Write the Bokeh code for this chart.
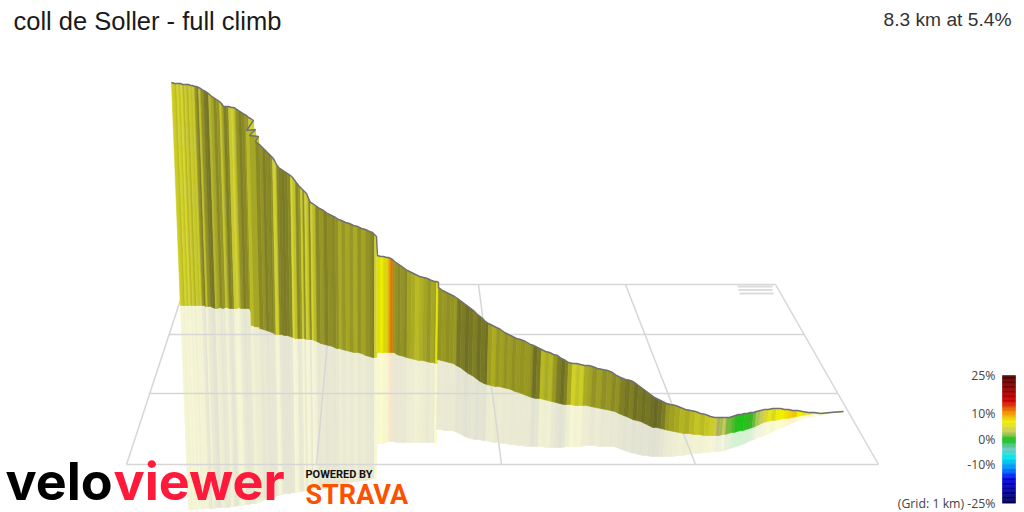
import numpy as np
from bokeh.core.properties import value
from bokeh.models import ColumnDataSource, Range1d
from bokeh.plotting import figure
from bokeh.embed import file_html
from bokeh.resources import INLINE

TITLE = "coll de Soller - full climb"
SUMMARY = "8.3 km at 5.4%"
LEGEND_TICKS = [25, 10, 0, -10, -25]
LEGEND_LABELS = ["25%", "10%", "0%", "-10%", "(Grid: 1 km) -25%"]

# gradient colour scale
scale_pct = [-25, -15.5, -11.5, -7, -3.5, 0, 3, 7, 11, 15, 25]
scale_r = [0, 0, 0, 0, 112, 16, 200, 240, 240, 208, 77]
scale_g = [0, 0, 128, 232, 200, 192, 200, 240, 130, 0, 0]
scale_b = [80, 224, 255, 232, 192, 16, 96, 0, 0, 0, 0]

# climb profile in the picture's projected scene units
station = [
 171,174,176,178,180,182,184,186,188,190,192,194,196,198,200,203,205,208,210,213,
 216,219,221,223,226,228,231,233,235,238,241,244,246,248,250,253,246,255,249,258,
 255,259,262,265,268,270,272,274,276,278,281,284,287,290,292,295,298,300,302,304,
 306,308,310,312,315,319,323,327,331,335,338,341,345,349,353,357,361,365,369,372,
 374,376,377,380,383,386,388,390,392,394,397,400,404,407,411,415,419,423,427,431,
 434,436,438,438,442,446,450,454,457,461,465,469,473,477,481,485,488,492,496,500,
 504,508,512,516,520,525,530,533,537,541,545,549,553,557,561,565,568,572,576,580,
 584,588,592,597,602,607,612,616,620,625,630,634,638,642,646,650,654,658,662,666,
 670,675,680,685,690,695,700,705,710,714,717,720,723,726,729,732,735,738,741,744,
 747,750,753,756,760,764,768,772,776,780,784,788,792,797,802,808,814,820,830,843]
crest = [
 82,83,83,83,83,84,84,84,84,85,85,86,86,87,88,90,91,93,95,97,
 99,101,103,106,106,106,107,107,108,110,112,114,115,117,118,120,130,129,135,136,
 141,144,147,150,153,155,157,160,164,167,169,171,173,175,177,181,185,187,189,191,
 193,198,202,203,205,208,210,213,215,217,219,220,222,223,225,226,228,229,231,232,
 234,236,255,256,256,257,257,258,259,261,263,265,268,270,272,274,276,277,278,280,
 281,281,282,287,290,292,294,296,298,301,304,307,310,314,317,321,323,325,327,329,
 332,334,336,338,339,341,344,345,347,349,351,352,354,355,358,360,362,363,363,364,
 365,365,366,368,369,370,372,375,377,379,380,382,385,388,391,394,397,399,401,403,
 404,405,407,409,410,411,413,414,416,417,417,417,417,417,417,416,415,414,414,413,
 413,412,412,411,410,409,409,408,408,408,409,409,410,410,411,412,412,413,412,411]
road = [
 305,305,305,305,305,305,305,305,305,305,305,305,305,306,306,306,307,308,308,307,
 308,307,307,308,308,308,308,307,308,308,308,308,312,322,324,325,325,326,326,327,
 328,329,330,331,332,333,334,334,334,334,335,335,336,337,338,338,338,338,338,339,
 339,339,339,340,341,343,344,345,346,348,348,349,350,351,352,352,353,355,356,357,
 357,357,352,352,352,352,352,352,352,352,354,355,356,357,358,359,360,360,361,362,
 362,363,363,359,360,361,362,363,365,367,370,373,375,378,381,383,384,385,386,386,
 387,388,389,391,392,394,396,397,398,398,399,400,401,402,403,404,404,404,405,405,
 405,405,406,407,408,409,410,411,413,415,417,419,420,421,423,425,427,427,428,429,
 430,431,432,433,433,434,434,435,435,435,435,435,434,434,433,432,432,431,430,430,
 429,428,427,426,424,422,421,420,420,419,418,418,417,416,415,414,413,413,412,411]
mirror = [
 509,509,509,509,509,508,508,508,508,508,508,508,508,508,508,507,507,507,507,507,
 507,506,506,506,505,505,505,505,504,504,503,503,503,502,502,501,501,500,500,499,
 498,498,497,496,496,495,495,494,494,493,493,493,492,492,492,491,491,491,490,490,
 490,490,489,489,489,488,488,487,486,485,484,484,483,482,481,481,480,480,479,478,
 478,478,443,443,443,442,441,441,441,441,442,442,442,442,442,442,442,442,442,442,
 442,442,442,429,429,430,430,430,431,433,435,437,438,439,439,440,440,441,442,442,
 443,443,444,444,445,445,446,446,446,446,446,447,447,447,447,447,446,446,446,446,
 446,445,445,445,446,446,446,446,447,449,451,452,453,454,455,455,456,456,456,456,
 456,456,455,455,454,453,453,452,452,451,451,451,451,450,449,448,447,446,445,444,
 443,441,440,439,437,436,434,432,430,428,427,425,423,421,419,417,416,415,413,411]
gradient = [
 5.4,5.6,5.2,5.5,4.9,5.5,5.0,5.6,5.2,5.4,5.0,5.5,5.6,5.2,5.5,5.6,5.6,5.0,5.5,5.6,
 5.5,5.0,5.5,5.6,5.6,5.0,5.0,5.2,5.6,5.6,5.6,5.6,5.6,5.0,5.2,5.0,5.4,5.0,5.5,5.0,
 5.6,5.6,5.6,5.6,5.6,5.4,5.0,5.0,5.6,5.6,5.6,5.6,5.6,4.9,5.2,5.6,5.6,5.0,5.5,5.0,
 5.2,5.6,5.0,5.2,5.6,5.6,5.6,5.6,5.6,5.6,5.5,5.6,5.5,5.6,5.5,5.6,5.5,5.6,5.6,5.6,
 5.0,5.0,7.0,7.0,6.6,7.5,9.5,11,10,5.6,5.8,5.6,5.8,5.6,5.6,5.5,5.5,5.6,5.6,5.6,
 5.6,7.0,7.0,5.8,5.8,5.8,5.8,5.8,5.8,5.8,5.8,5.8,5.8,5.8,5.8,5.8,5.8,5.8,5.8,5.8,
 5.8,5.8,5.8,5.8,5.8,5.8,5.8,5.8,5.8,5.8,5.6,5.6,5.8,5.8,5.8,5.8,5.8,5.4,5.4,5.4,
 5.6,5.6,5.6,5.6,5.6,5.6,5.6,5.6,5.8,5.8,5.8,5.8,5.8,5.8,5.8,5.8,5.8,5.8,5.8,5.8,
 5.8,5.8,5.8,5.8,5.8,5.6,5.6,5.6,5.4,4.0,3.0,2.5,3.0,2.0,1.5,1.0,0.5,0.2,0.2,0.4,
 0.5,0.8,1.5,2.5,3.2,5.0,6.0,5.5,6.8,6.8,7.5,8.0,8.5,7.0,6.0,5.6,5.4,5.2,5.2,5.2]
facet_light = [
 .90,.82,.95,.85,.98,.80,.92,.78,.90,.84,.90,.62,.50,.85,.60,.48,.45,.80,.70,.55,
 .62,.88,.70,.50,.55,.90,.95,.82,.60,.50,.55,.62,.62,.92,.85,.95,.80,.95,.70,.90,
 .55,.60,.50,.55,.52,.60,.95,.90,.55,.50,.48,.50,.55,.98,.85,.55,.62,.92,.60,.95,
 .85,.55,.95,.82,.55,.62,.52,.58,.55,.60,.72,.62,.70,.62,.72,.60,.68,.60,.55,.50,
 .95,1.0,.92,.98,.90,.92,.95,.90,.80,.60,.55,.60,.55,.68,.72,.80,.75,.68,.62,.70,
 .65,.95,1.0,.60,.62,.58,.60,.62,.45,.48,.42,.45,.50,.42,.46,.42,.65,.72,.62,.66,
 .60,.64,.58,.62,.60,.62,.58,.42,.48,.78,.72,.78,.62,.48,.42,.50,.70,.92,.85,.90,
 .72,.68,.60,.66,.58,.62,.55,.60,.50,.45,.50,.42,.46,.42,.45,.42,.38,.42,.48,.62,
 .66,.70,.76,.72,.78,.85,.80,.86,.90,.95,.85,.95,1.0,.90,.95,.95,.95,1.0,1.0,1.0,
 .95,.90,.95,1.0,1.0,.98,1.0,.95,1.0,1.0,1.0,1.0,1.0,1.0,1.0,1.0,1.0,1.0,.95,.95]

# ground grid, 1 km squares, in the same scene units
grid_row = [284, 334, 393, 464]
grid_col_back = [185, 332, 478, 625, 775]
grid_col_front = [126, 316, 501, 695, 878]
north_mark_start = [737, 738, 739]
north_mark_end = [772, 772, 773]
north_mark_level = [286, 289.5, 293]

station = np.array(station, float)
crest = np.array(crest, float)
road = np.array(road, float)
mirror = np.array(mirror, float)


def scale_colour(pct):
    return np.array([np.interp(pct, scale_pct, c) for c in (scale_r, scale_g, scale_b)])


def css(rgb):
    return "#%02x%02x%02x" % tuple(int(round(min(255, max(0, v)))) for v in rgb)


lean = 0.0002 * (370 - station)
road_x = station + lean * (road - crest)
mirror_x = road_x + lean * (mirror - road)

# shaded facets keep a little ambient grey, so dark strips read as olive
ambient = np.array([28.0, 28.0, 42.0])

wall_xs, wall_ys, wall_c, refl_xs, refl_ys, refl_c = [], [], [], [], [], []
for i in range(len(station) - 1):
    shade = scale_colour(gradient[i]) * facet_light[i] + ambient * (1 - facet_light[i])
    wall_xs.append([station[i], station[i + 1], road_x[i + 1], road_x[i]])
    wall_ys.append([crest[i], crest[i + 1], road[i + 1], road[i]])
    wall_c.append(css(shade))
    refl_xs.append([road_x[i], road_x[i + 1], mirror_x[i + 1], mirror_x[i]])
    refl_ys.append([road[i], road[i + 1], mirror[i + 1], mirror[i]])
    refl_c.append(css(shade * 0.2 + 255 * 0.8))

p = figure(width=1024, height=512, x_range=Range1d(0, 1024), y_range=Range1d(512, 0),
           output_backend="svg", toolbar_location=None, min_border=0,
           x_axis_location=None, y_axis_location=None, outline_line_color=None,
           background_fill_color="white", border_fill_color="white")
p.grid.visible = False

# reflection below the road
p.patches("xs", "ys", fill_color="c", line_color="c", line_width=0.6,
          source=ColumnDataSource(dict(xs=refl_xs, ys=refl_ys, c=refl_c)))

# ground grid
left_edge = np.interp(grid_row, [grid_row[0], grid_row[-1]], [grid_col_back[0], grid_col_front[0]])
right_edge = np.interp(grid_row, [grid_row[0], grid_row[-1]], [grid_col_back[-1], grid_col_front[-1]])
gx = [[a, b] for a, b in zip(left_edge, right_edge)] + [[a, b] for a, b in zip(grid_col_back, grid_col_front)]
gy = [[r, r] for r in grid_row] + [[grid_row[0], grid_row[-1]] for _ in grid_col_back]
p.multi_line(gx, gy, line_color="#d6d6d6", line_width=1.5)
p.multi_line([[a, b] for a, b in zip(north_mark_start, north_mark_end)],
             [[v, v] for v in north_mark_level], line_color="#dcdcdc", line_width=2.2)

# coloured wall and its crest
p.patches("xs", "ys", fill_color="c", line_color="c", line_width=0.6,
          source=ColumnDataSource(dict(xs=wall_xs, ys=wall_ys, c=wall_c)))
p.line(station, crest, line_color="#707070", line_width=1.4)

# headings
p.text([13], [20], text=[TITLE], text_font=value("Liberation Sans"), text_font_size="25.5px",
       text_color="#1a1a1a", text_baseline="middle", text_align="left")
p.text([1011], [19], text=[SUMMARY], text_font=value("Liberation Sans"), text_font_size="19.2px",
       text_color="#333333", text_baseline="middle", text_align="right")

# gradient legend
def legend_y(v):
    return 438.85 - 2.554 * np.asarray(v, float)

steps = np.linspace(-25, 25, 101)
p.quad(left=1002, right=1015, top=legend_y(steps[1:]), bottom=legend_y(steps[:-1]),
       fill_color=[css(scale_colour(v)) for v in (steps[1:] + steps[:-1]) / 2],
       line_color=[css(scale_colour(v)) for v in (steps[1:] + steps[:-1]) / 2], line_width=0.5)
p.text([995] * 5, legend_y(LEGEND_TICKS), text=LEGEND_LABELS, text_font=value("Open Sans"),
       text_font_size="12.3px", text_color="#444444", text_baseline="middle", text_align="right")

# logos
p.text([5], [481], text=["velo"], text_font=value("Inter"), text_font_style="bold",
       text_font_size="52px", text_color="#000000", text_baseline="middle")
p.text([113], [481], text=["viewer"], text_font=value("Inter"), text_font_style="bold",
       text_font_size="52px", text_color="#ff1a3c", text_baseline="middle")
p.text([305], [474], text=["POWERED BY"], text_font=value("Roboto"), text_font_style="bold",
       text_font_size="11px", text_color="#111111", text_baseline="middle")
p.text([305], [494], text=["STRAVA"], text_font=value("Roboto"), text_font_style="bold",
       text_font_size="27px", text_color="#fc5200", text_baseline="middle")

open("out.html", "w").write(file_html(p, INLINE))
